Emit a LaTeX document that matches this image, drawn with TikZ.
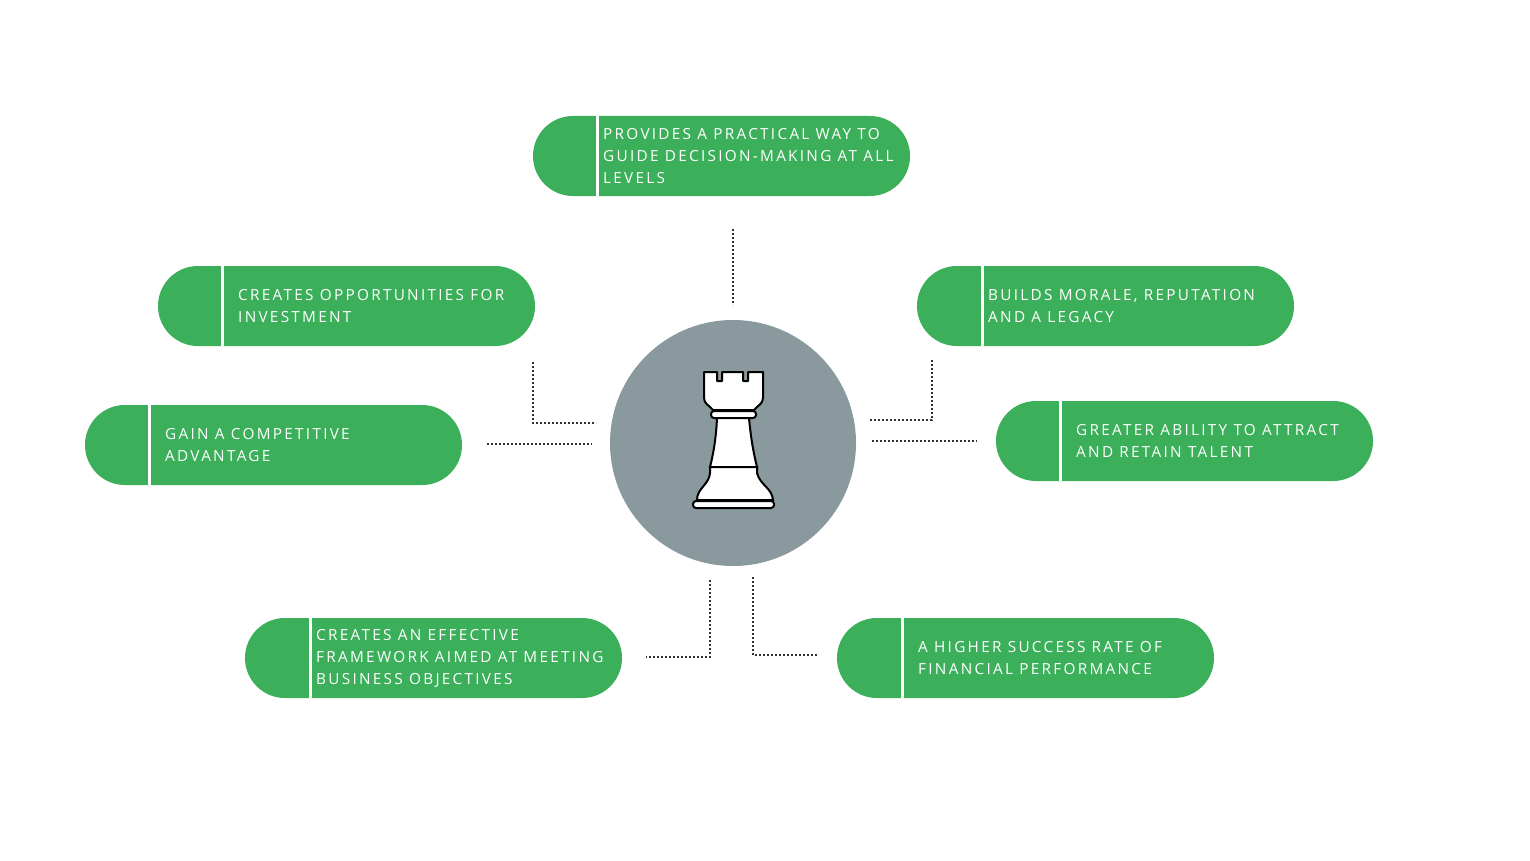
\documentclass[tikz,border=0pt]{standalone}
\usepackage{fontspec}
\setmainfont{Open Sans}[LetterSpace=15]
\usetikzlibrary{positioning}
\definecolor{pillgreen}{RGB}{59,175,90}
\definecolor{slate}{RGB}{137,153,158}
\newcommand{\pill}[5]{% name, left x, top y, divider x, text
  \fill[pillgreen,rounded corners=39.9] (#2,#3) rectangle (#2+377,#3+80);
  \draw[white,line width=3] (#4,#3) -- (#4,#3+80);
  \node[txt,anchor=west] (#1) at (#4+5,#3+40) {#5};}
\begin{document}
\begin{tikzpicture}[x=1pt,y=-1pt]
	\tikzset{txt/.style={text=white,font=\fontsize{15.3}{22}\selectfont,align=left,inner sep=1pt},
		dot/.style={black!80,line width=2,dotted}}
	\useasboundingbox (0,0) rectangle (1530,861);
	%-----pills
	\pill{practical}{533}{116}{597}{PROVIDES A PRACTICAL WAY TO\\GUIDE DECISION-MAKING AT ALL\\LEVELS}
	\pill{invest}{158}{266}{222}{\hspace{10pt}CREATES OPPORTUNITIES FOR\\\hspace{10pt}INVESTMENT}
	\pill{morale}{917}{266}{982}{BUILDS MORALE, REPUTATION\\AND A LEGACY}
	\pill{gain}{85}{405}{149}{\hspace{10pt}GAIN A COMPETITIVE\\\hspace{10pt}ADVANTAGE}
	\pill{talent}{996}{401}{1060}{\hspace{10pt}GREATER ABILITY TO ATTRACT\\\hspace{10pt}AND RETAIN TALENT}
	\pill{frame}{245}{618}{310}{CREATES AN EFFECTIVE\\FRAMEWORK AIMED AT MEETING\\BUSINESS OBJECTIVES}
	\pill{finance}{837}{618}{902}{\hspace{10pt}A HIGHER SUCCESS RATE OF\\\hspace{10pt}FINANCIAL PERFORMANCE}
	%-----centre
	\fill[slate] (733,443) circle (123);
	\draw[black,line width=2,fill=white,line join=round]
		(704,372) -- (717,372) -- (717,381) -- (722,381) -- (722,372) -- (743,372) -- (743,381)
		-- (748,381) -- (748,372) -- (763,372) -- (763,398) .. controls (763,404) and (757,406) .. (754,410)
		-- (713,410) .. controls (710,406) and (704,404) .. (704,398) -- cycle;
	\draw[black,line width=2,fill=white,rounded corners=3] (711,411) rectangle (756,418);
	\draw[black,line width=2,fill=white]
		(717,418) -- (749,418) .. controls (751,440) and (754,455) .. (757,467) -- (710,467)
		.. controls (713,455) and (716,440) .. (717,418) -- cycle;
	\draw[black,line width=2,fill=white]
		(710,467) -- (757,467) -- (757,473) .. controls (760,485) and (772,488) .. (773,500)
		-- (697,500) .. controls (697,488) and (709,485) .. (710,473) -- cycle;
	\draw[black,line width=2,fill=white,rounded corners=3] (693,501) rectangle (774,508);
	%-----connectors
	\coordinate (t1) at (733,229); \coordinate (t2) at (733,305);
	\coordinate (a1) at (533,362); \coordinate (a2) at (533,423); \coordinate (a3) at (596,423);
	\coordinate (b1) at (487,444); \coordinate (b2) at (592,444);
	\coordinate (c1) at (932,360); \coordinate (c2) at (932,420); \coordinate (c3) at (870,420);
	\coordinate (d1) at (872,441); \coordinate (d2) at (977,441);
	\coordinate (e1) at (710,580); \coordinate (e2) at (710,657); \coordinate (e3) at (646,657);
	\coordinate (f1) at (753,577); \coordinate (f2) at (753,655); \coordinate (f3) at (818,655);
	\draw[dot] (t1) -- (t2);
	\draw[dot] (a1) -- (a2) -- (a3);
	\draw[dot] (b1) -- (b2);
	\draw[dot] (c1) -- (c2) -- (c3);
	\draw[dot] (d1) -- (d2);
	\draw[dot] (e1) -- (e2) -- (e3);
	\draw[dot] (f1) -- (f2) -- (f3);
\end{tikzpicture}
\end{document}
